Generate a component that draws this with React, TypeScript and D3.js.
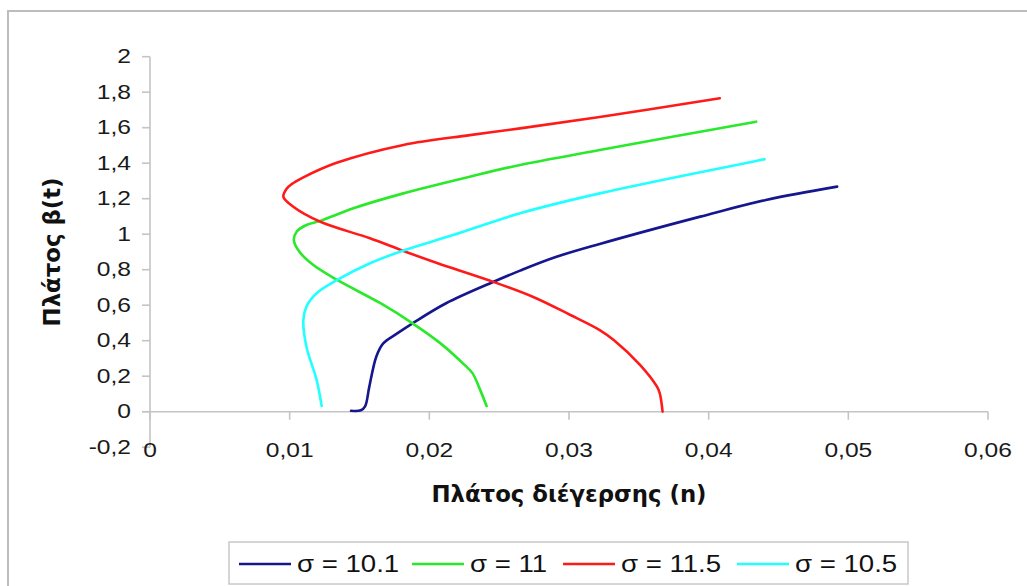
import React from "react";
import * as d3 from "d3";

// Excitation amplitude n (x) and response amplitude β(t) (y) for each σ
const blueX = [0.0144, 0.0151, 0.0154, 0.0157, 0.0162, 0.0167, 0.0177, 0.0188, 0.0212, 0.0246, 0.0265, 0.029, 0.0322, 0.0394, 0.0441, 0.0492];
const blueY = [0.005, 0.008, 0.03, 0.14, 0.31, 0.385, 0.441, 0.498, 0.611, 0.732, 0.795, 0.87, 0.945, 1.099, 1.193, 1.268];

const greenX = [0.0241, 0.0236, 0.0231, 0.0225, 0.0208, 0.0188, 0.0165, 0.0134, 0.0117, 0.0107, 0.0103, 0.0105, 0.0112, 0.0122, 0.01456, 0.01814, 0.0229, 0.0265, 0.0322, 0.0434];
const greenY = [0.032, 0.13, 0.216, 0.265, 0.385, 0.498, 0.611, 0.742, 0.826, 0.901, 0.967, 1.014, 1.052, 1.075, 1.146, 1.23, 1.324, 1.39, 1.474, 1.634];

const redX = [0.0367, 0.0365, 0.0363, 0.0351, 0.0332, 0.0322, 0.0301, 0.0274, 0.0242, 0.0205, 0.0181, 0.01575, 0.0122, 0.01026, 0.00955, 0.0098, 0.01014, 0.01098, 0.01336, 0.01814, 0.0229, 0.0265, 0.0322, 0.0408];
const redY = [0, 0.104, 0.141, 0.263, 0.404, 0.46, 0.545, 0.648, 0.742, 0.839, 0.907, 0.977, 1.07, 1.155, 1.211, 1.258, 1.282, 1.32, 1.402, 1.503, 1.558, 1.596, 1.66, 1.766];

const cyanX = [0.01229, 0.01193, 0.0112, 0.01098, 0.0112, 0.01193, 0.0134, 0.01575, 0.0181, 0.0217, 0.0265, 0.0322, 0.044];
const cyanY = [0.032, 0.179, 0.366, 0.517, 0.592, 0.667, 0.742, 0.836, 0.907, 0.995, 1.118, 1.23, 1.422];

const seriesNames = ["σ = 10.1", "σ = 11", "σ = 11.5", "σ = 10.5"];
const seriesColors = ["#16168e", "#2ae82a", "#ff1a1a", "#22ffff"];
const seriesX = [blueX, greenX, redX, cyanX];
const seriesY = [blueY, greenY, redY, cyanY];

const xTicks = [0, 0.01, 0.02, 0.03, 0.04, 0.05, 0.06];
const yTicks = [-0.2, 0, 0.2, 0.4, 0.6, 0.8, 1, 1.2, 1.4, 1.6, 1.8, 2];

const xTitle = "Πλάτος διέγερσης (n)";
const yTitle = "Πλάτος β(t)";

const W = 1027;
const H = 586;
const plot = { left: 150, right: 988, top: 56.7, bottom: 447.2 };

const fmt = (v: number) => {
  const s = d3.format("~g")(+v.toFixed(3));
  return s.replace("−", "-").replace(".", ",");
};

// Labels are drawn slightly widened, as in the exported chart
const STRETCH = 1.2;

export default function App() {
  const x = d3.scaleLinear().domain([0, 0.06]).range([plot.left, plot.right]);
  const y = d3.scaleLinear().domain([-0.2, 2]).range([plot.bottom, plot.top]);

  const line = d3
    .line<[number, number]>()
    .x((d) => x(d[0]))
    .y((d) => y(d[1]))
    .curve(d3.curveCatmullRom.alpha(0.5));

  const axisColor = "#c4c4c4";
  const tickFont = "'Liberation Sans', Arial, sans-serif";
  const y0 = y(0);

  const legend = { x: 229, y: 542, w: 679, h: 42 };
  const legendItems = [239, 412, 563, 737];

  return (
    <svg
      width={W}
      height={H}
      style={{ position: "absolute", left: 0, top: 0, background: "#fff" }}
    >
      <rect x={0} y={0} width={W} height={H} fill="#fff" />
      <rect x={8} y={11} width={W + 10} height={H + 10} fill="none" stroke="#bdbdbd" strokeWidth={2} />

      {/* y axis */}
      <line x1={plot.left} x2={plot.left} y1={plot.top} y2={plot.bottom} stroke={axisColor} strokeWidth={1.6} />
      {yTicks.map((t) => (
        <g key={"y" + t}>
          <line x1={plot.left - 8} x2={plot.left} y1={y(t)} y2={y(t)} stroke={axisColor} strokeWidth={1.6} />
          <text
            transform={`translate(131, ${y(t)}) scale(${STRETCH}, 1)`}
            textAnchor="end"
            dominantBaseline="central"
            fontFamily={tickFont}
            fontSize={20.5}
            fill="#1a1a1a"
          >
            {fmt(t)}
          </text>
        </g>
      ))}

      {/* x axis crossing at β = 0 */}
      <line x1={plot.left - 8} x2={plot.right} y1={y0} y2={y0} stroke={axisColor} strokeWidth={1.6} />
      {xTicks.map((t) => (
        <g key={"x" + t}>
          <line x1={x(t)} x2={x(t)} y1={y0} y2={y0 + 8} stroke={axisColor} strokeWidth={1.6} />
          <text
            transform={`translate(${x(t)}, 450) scale(${STRETCH}, 1)`}
            textAnchor="middle"
            dominantBaseline="central"
            fontFamily={tickFont}
            fontSize={20.5}
            fill="#1a1a1a"
          >
            {fmt(t)}
          </text>
        </g>
      ))}

      {/* curves */}
      {seriesX.map((xs, i) => (
        <path
          key={seriesNames[i]}
          d={line(xs.map((v, j) => [v, seriesY[i][j]] as [number, number])) || ""}
          fill="none"
          stroke={seriesColors[i]}
          strokeWidth={2.6}
          strokeLinejoin="round"
          strokeLinecap="round"
        />
      ))}

      {/* axis titles */}
      <text
        x={(plot.left + plot.right) / 2}
        y={502}
        textAnchor="middle"
        fontFamily="'DejaVu Sans', sans-serif"
        fontWeight="bold"
        fontSize={22.8}
        fill="#111"
      >
        {xTitle}
      </text>
      <text
        transform={`translate(60, ${(plot.top + plot.bottom) / 2}) rotate(-90)`}
        textAnchor="middle"
        fontFamily="'DejaVu Sans', sans-serif"
        fontWeight="bold"
        fontSize={22.8}
        fill="#111"
      >
        {yTitle}
      </text>

      {/* legend */}
      <rect x={legend.x} y={legend.y} width={legend.w} height={legend.h} fill="#fff" stroke="#c8c8c8" strokeWidth={1.5} />
      {seriesNames.map((name, i) => (
        <g key={"lg" + i}>
          <line
            x1={legendItems[i]}
            x2={legendItems[i] + 52}
            y1={legend.y + legend.h / 2 + 1}
            y2={legend.y + legend.h / 2 + 1}
            stroke={seriesColors[i]}
            strokeWidth={2.6}
          />
          <text
            transform={`translate(${legendItems[i] + 58}, ${legend.y + legend.h / 2 + 1}) scale(${STRETCH}, 1)`}
            dominantBaseline="central"
            fontFamily={tickFont}
            fontSize={23}
            fill="#111"
          >
            {name}
          </text>
        </g>
      ))}
    </svg>
  );
}
